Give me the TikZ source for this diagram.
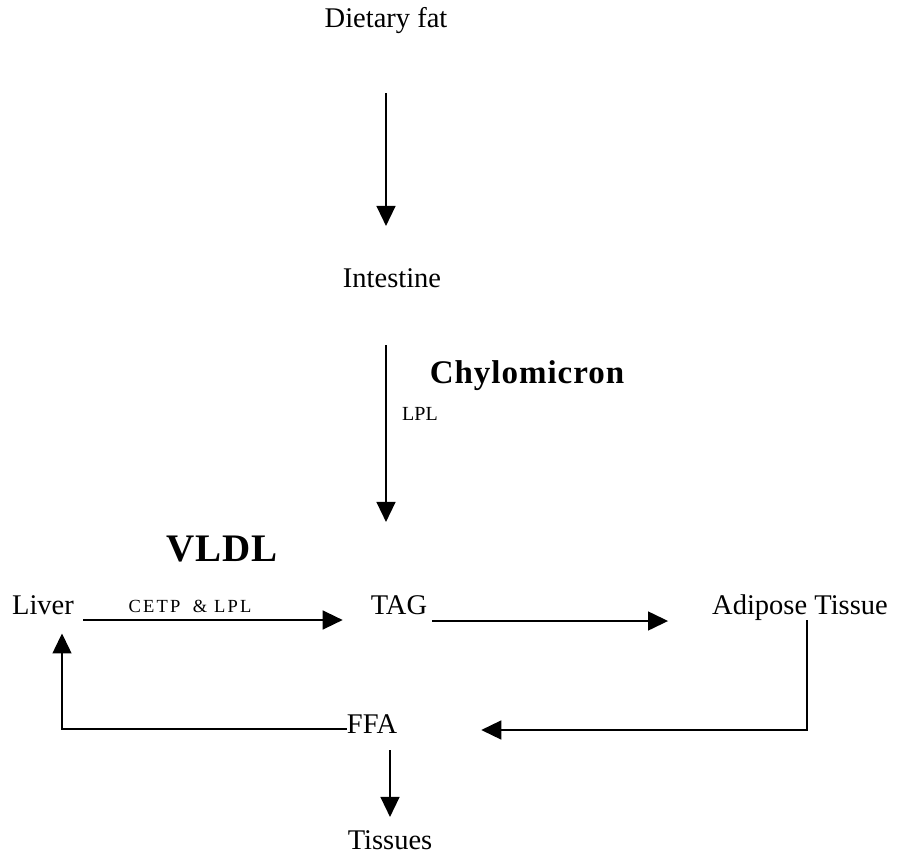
\documentclass[tikz,border=0pt]{standalone}
\usepackage{fontspec}
\setmainfont{Liberation Serif}
\usetikzlibrary{arrows.meta}
\begin{document}
\begin{tikzpicture}[x=1pt,y=-1pt,
  lbl/.style={inner sep=0pt, anchor=base, font=\fontsize{28.5}{34}\selectfont},
  heading/.style={inner sep=0pt, anchor=base, font=\fontsize{#1}{#1}\selectfont\bfseries\addfontfeature{LetterSpace=3}},
  enzyme/.style={inner sep=0pt, anchor=base, font=\fontsize{#1}{#1}\selectfont},
  spaced/.style={inner sep=0pt, anchor=base, font=\fontsize{#1}{#1}\selectfont\addfontfeature{LetterSpace=12}},
  arr/.style={line width=1.4pt, -{Triangle[length=20pt,width=19pt]}},
]
\useasboundingbox (0,0) rectangle (902,856);

% labels
\node[lbl] (diet)   at (386,28)  {Dietary fat};
\node[lbl] (intest) at (392,287) {Intestine};
\node[heading=33] (chylo) at (527,383) {Chylomicron};
\node[enzyme=20] (lpl) at (420,420) {LPL};
\node[heading=39] (vldl) at (222,561) {VLDL};
\node[lbl] (liver)  at (43,614)  {Liver};
\node[spaced=18.5] (cetp) at (190,612) {CETP\hspace{0.3em} \& LPL};
\node[lbl] (tag)    at (399,614) {TAG};
\node[lbl] (adip)   at (800,614) {Adipose Tissue};
\node[lbl] (ffa)    at (372,733) {FFA};
\node[lbl] (tiss)   at (390,849) {Tissues};

% dietary fat -> intestine -> TAG
\draw[arr, shorten <=59pt, shorten >=42pt] (diet.south) -- (diet.south |- intest.north);
\draw[arr, shorten <=58pt, shorten >=73pt] (intest.south -| diet.south) -- (tag.north -| diet.south);

% liver -> TAG -> adipose tissue
\draw[arr, shorten <=9pt, shorten >=28pt] ([yshift=-6pt]liver.base east) -- ([yshift=-6pt]tag.base west);
\draw[arr, shorten <=5pt, shorten >=44pt] ([yshift=-7pt]tag.base east) -- ([yshift=-7pt]adip.base west);

% adipose tissue -> FFA
\draw[arr, shorten >=84pt] ([xshift=7pt]adip.south) |- ([yshift=3pt]ffa.base east);

% FFA -> liver
\draw[arr, shorten >=19pt] ([yshift=4pt]ffa.base west) -| ([xshift=19pt]liver.south);

% FFA -> tissues
\draw[arr, shorten <=17pt, shorten >=13pt] (ffa.south -| tiss.north) -- (tiss.north);
\end{tikzpicture}
\end{document}
